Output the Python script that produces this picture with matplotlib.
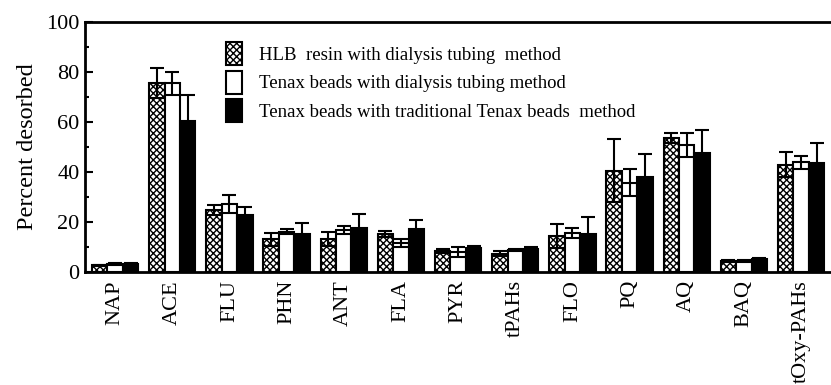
import numpy as np
import matplotlib
matplotlib.use("Agg")
from matplotlib import pyplot as plt

# 数据
compounds = ['NAP', 'ACE', 'FLU', 'PHN', 'ANT', 'FLA', 'PYR', 'tPAHs',
             'FLO', 'PQ', 'AQ', 'BAQ', 'tOxy-PAHs']
hlb_dialysis = [2.5, 75.3, 24.7, 12.9, 12.9, 15.0, 8.2, 7.2, 14.3, 40.4, 53.3, 4.3, 42.7]
hlb_err = [0.3, 6.0, 2.0, 2.5, 2.8, 1.2, 0.8, 1.0, 4.7, 12.6, 2.0, 0.3, 5.0]
tenax_dialysis = [3.0, 75.3, 27.0, 16.0, 16.7, 11.4, 7.8, 8.6, 15.3, 35.6, 50.7, 4.3, 43.7]
tenax_dial_err = [0.3, 4.5, 3.6, 1.0, 1.6, 1.5, 2.0, 0.5, 2.0, 5.4, 4.9, 0.3, 2.6]
tenax_trad = [3.0, 60.4, 22.7, 15.0, 17.6, 17.2, 9.3, 9.0, 15.0, 38.0, 47.6, 5.0, 43.3]
tenax_trad_err = [0.3, 10.3, 3.0, 4.6, 5.4, 3.5, 1.0, 1.0, 7.0, 9.0, 9.1, 0.3, 8.3]

labels = ['HLB  resin with dialysis tubing  method',
          'Tenax beads with dialysis tubing method',
          'Tenax beads with traditional Tenax beads  method']

plt.rcParams['font.family'] = ['Liberation Serif', 'DejaVu Serif']
plt.rcParams['hatch.linewidth'] = 1.0

fig = plt.figure(figsize=(8.31, 3.85), dpi=100)
ax = fig.add_axes([0.1023, 0.2943, 0.903, 0.6493])

x = np.arange(len(compounds))
w = 0.27
ek = dict(ecolor='black', elinewidth=1.5, capsize=5, capthick=1.5)
ax.bar(x - w, hlb_dialysis, w, yerr=hlb_err, facecolor='white', edgecolor='black',
       hatch='xxxxx', linewidth=1.5, label=labels[0], error_kw=ek)
ax.bar(x, tenax_dialysis, w, yerr=tenax_dial_err, facecolor='white', edgecolor='black',
       linewidth=1.5, label=labels[1], error_kw=ek)
ax.bar(x + w, tenax_trad, w, yerr=tenax_trad_err, facecolor='black', edgecolor='black',
       linewidth=1.5, label=labels[2], error_kw=ek)

ax.set_xlim(-0.526, 12.6)
ax.set_ylim(0, 100)
ax.set_yticks([0, 20, 40, 60, 80, 100])
ax.set_yticks(np.arange(10, 100, 20), minor=True)
ax.set_xticks(x)
ax.set_xticklabels(compounds, rotation=90, fontsize=16)
ax.tick_params(axis='y', which='major', direction='in', length=6, width=1.5, labelsize=16, pad=4)
ax.tick_params(axis='y', which='minor', direction='in', length=3, width=1.5)
ax.tick_params(axis='x', length=0, pad=6)
for s in ax.spines.values():
    s.set_linewidth(2)
ax.set_ylabel('Percent desorbed', fontsize=17.5, labelpad=6)

ax.legend(loc='upper left', bbox_to_anchor=(0.165, 0.985), frameon=False, fontsize=13.5,
          handlelength=0.85, handleheight=1.5, handletextpad=0.9, labelspacing=0.3)

fig.savefig('out.png', dpi=100)
